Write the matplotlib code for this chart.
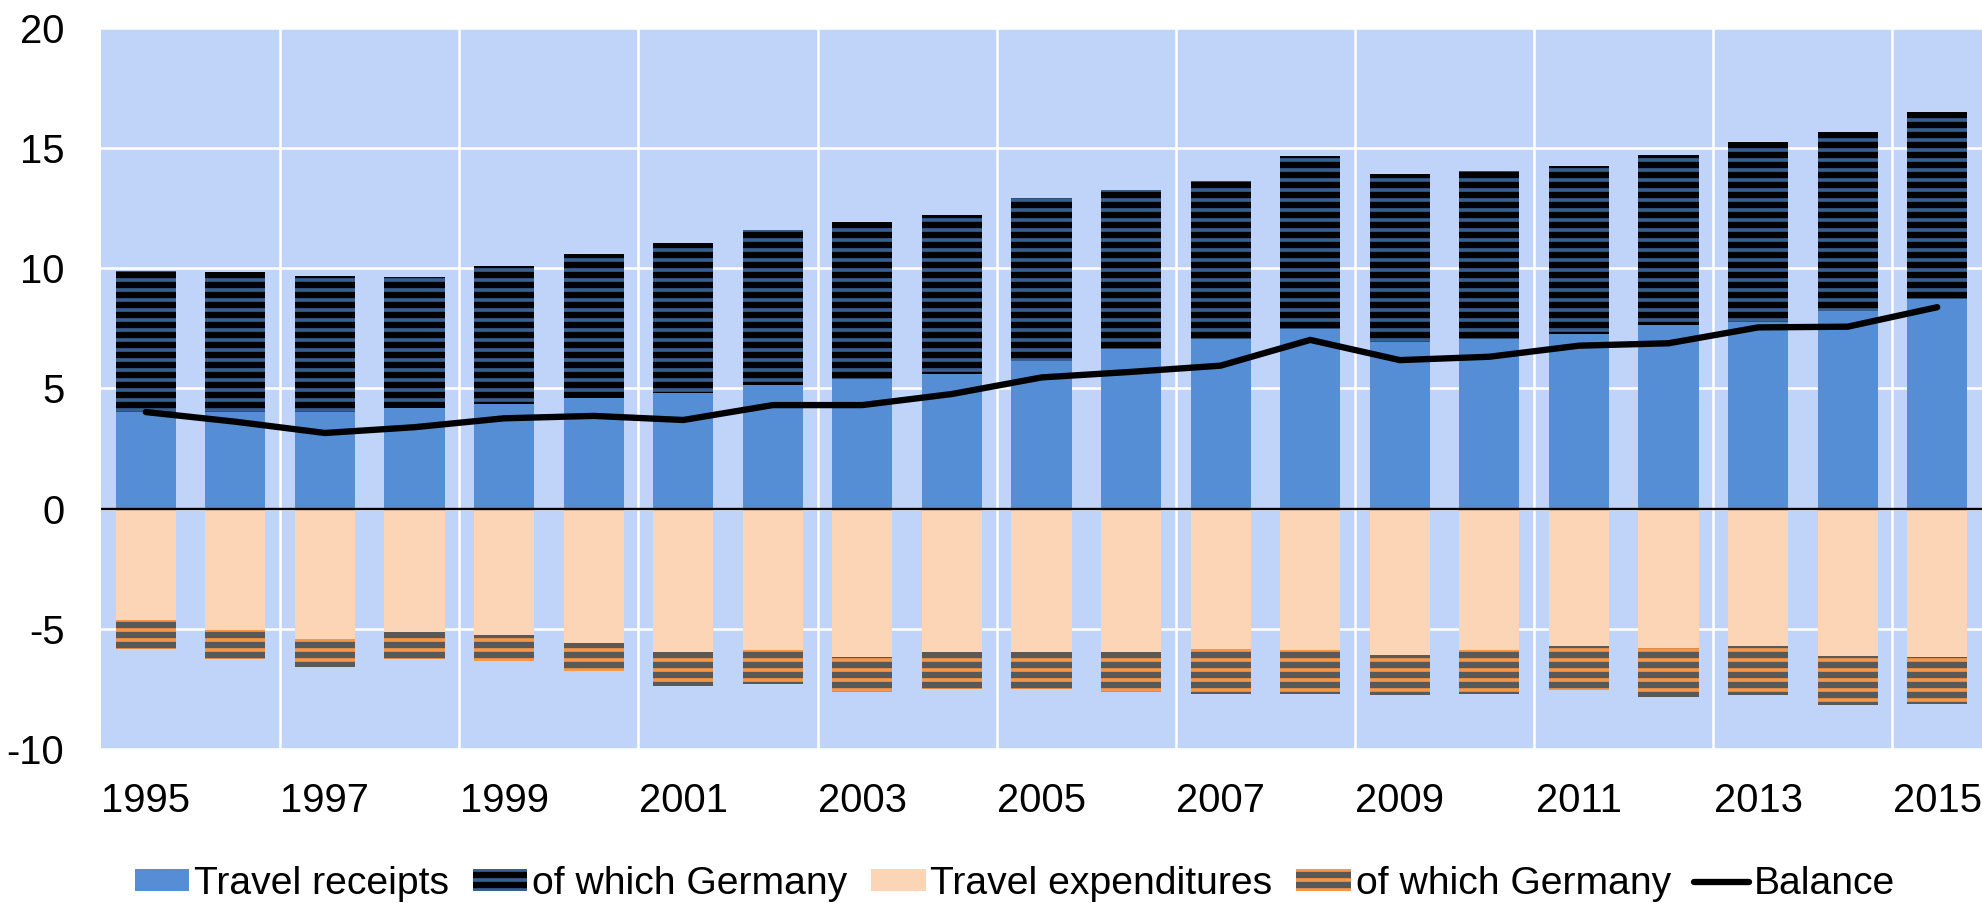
import numpy as np
import matplotlib
matplotlib.use("Agg")
import matplotlib.pyplot as plt

# ---------------- data ----------------
years = [str(y) for y in range(1995, 2016)]
receipts_other = [4.01, 4.01, 4.02, 4.17, 4.33, 4.58, 4.79, 5.13, 5.39, 5.59, 6.13,
                  6.63, 7.03, 7.46, 6.91, 7.03, 7.26, 7.63, 7.74, 8.20, 8.71]
receipts_germany = [5.87, 5.81, 5.66, 5.47, 5.74, 6.00, 6.24, 6.45, 6.52, 6.60, 6.77,
                    6.63, 6.60, 7.20, 6.99, 6.99, 6.99, 7.06, 7.49, 7.47, 7.76]
expend_other = [4.64, 5.05, 5.43, 5.15, 5.26, 5.61, 5.98, 5.90, 6.16, 5.97, 5.95,
                5.97, 5.83, 5.90, 6.11, 5.90, 5.73, 5.81, 5.72, 6.12, 6.16]
expend_germany = [1.20, 1.20, 1.15, 1.12, 1.07, 1.15, 1.39, 1.38, 1.48, 1.52, 1.54,
                  1.66, 1.87, 1.83, 1.65, 1.81, 1.80, 2.02, 2.02, 2.04, 1.97]
balance = [4.01, 3.61, 3.14, 3.38, 3.75, 3.85, 3.68, 4.30, 4.30, 4.76, 5.45,
           5.68, 5.94, 7.01, 6.17, 6.31, 6.77, 6.87, 7.53, 7.56, 8.37]
yticks = [-10, -5, 0, 5, 10, 15, 20]
legend_labels = ["Travel receipts", "of which Germany", "Travel expenditures",
                 "of which Germany", "Balance"]

# ---------------- style ----------------
plt.rcParams['font.family'] = ['Liberation Sans', 'DejaVu Sans']
plt.rcParams['hatch.linewidth'] = 3.8

C_BG = '#c0d3f8'
C_REC = '#558ed5'
C_REC_DE = '#376092'
C_EXP = '#fbd5b5'
C_EXP_DE = '#f79646'
C_GRAY = '#595959'
FS = 24
FS_LEG = 23.5

DPI = 120
fig = plt.figure(figsize=(1982 / DPI, 903 / DPI), dpi=DPI)
ax = fig.add_axes([101 / 1982, 1 - 749 / 903, 1 - 101 / 1982, (749 - 27.5) / 903])
ax.set_facecolor(C_BG)

x = np.arange(len(years))
w = 0.67
rec_o = np.array(receipts_other)
rec_g = np.array(receipts_germany)
exp_o = np.array(expend_other)
exp_g = np.array(expend_germany)

b1 = ax.bar(x, rec_o, w, color=C_REC, linewidth=0, zorder=2, label=legend_labels[0])
b2 = ax.bar(x, rec_g, w, bottom=rec_o, facecolor=C_REC_DE, edgecolor='black',
            hatch='--', linewidth=0, zorder=2, label=legend_labels[1])
b3 = ax.bar(x, -exp_o, w, color=C_EXP, linewidth=0, zorder=2, label=legend_labels[2])
b4 = ax.bar(x, -exp_g, w, bottom=-exp_o, facecolor=C_EXP_DE, edgecolor=C_GRAY,
            hatch='--', linewidth=0, zorder=2, label=legend_labels[3])
ax.axhline(0, color='black', lw=1.4, zorder=3)
ln, = ax.plot(x, balance, color='black', lw=3.8, zorder=4, label=legend_labels[4],
              solid_capstyle='round', solid_joinstyle='miter')

ax.set_xlim(-0.5, len(years) - 0.5)
ax.set_ylim(-10, 20)
ax.set_yticks(yticks)
ax.set_yticklabels([str(t) for t in yticks])
ax.set_xticks(x[::2])
ax.set_xticklabels(years[::2])
ax.set_xticks(np.arange(1.5, len(years) - 1, 2), minor=True)
ax.tick_params(axis='both', which='both', length=0, labelsize=FS, colors='black')
ax.tick_params(axis='x', pad=20)
ax.tick_params(axis='y', pad=22)
ax.grid(axis='y', which='major', color='white', lw=1.5, zorder=1)
ax.grid(axis='x', which='minor', color='white', lw=1.5, zorder=1)
ax.set_axisbelow(True)
for s in ax.spines.values():
    s.set_visible(False)

fig.legend(handles=[b1, b2, b3, b4, ln], labels=legend_labels, loc='center',
           bbox_to_anchor=(0.512, 0.021), ncol=5, frameon=False, fontsize=FS_LEG,
           handlelength=1.4, handleheight=0.5, handletextpad=0.12,
           columnspacing=0.6, borderaxespad=0)

fig.savefig('out.png', dpi=DPI, facecolor='white')
